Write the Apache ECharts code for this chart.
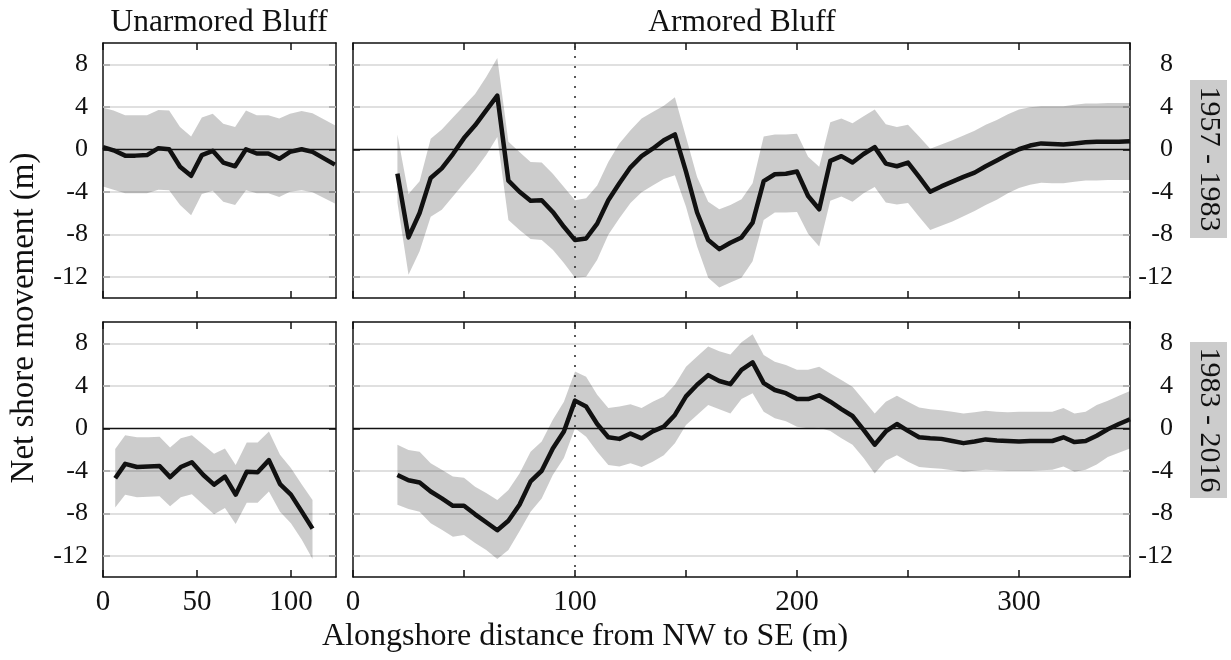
<!DOCTYPE html>
<html>
<head>
<meta charset="utf-8">
<script src="https://cdn.jsdelivr.net/npm/echarts@6/dist/echarts.min.js"></script>
<style>
  html, body { margin: 0; padding: 0; background: #fff; }
  #chart { width: 1231px; height: 660px; }
</style>
</head>
<body>
<div id="chart"></div>
<script>
// ---- Unarmored bluff, 1957 - 1983 ----
const ua1X    = [0, 5.6, 11.8, 17.2, 23.4, 29.5, 35.2, 41.0, 46.9, 52.6, 58.4, 64.0, 70.3, 76.1, 81.8, 88.0, 93.8, 99.5, 105.7, 111.5, 123.4];
const ua1Mean = [0.2, -0.1, -0.6, -0.6, -0.55, 0.1, 0, -1.65, -2.5, -0.55, -0.15, -1.25, -1.6, 0, -0.4, -0.4, -0.9, -0.25, 0, -0.25, -1.45];
const ua1Hi   = [3.9, 3.65, 3.2, 3.2, 3.2, 3.7, 3.65, 2.1, 1.2, 3.0, 3.35, 2.4, 2.1, 3.65, 3.2, 3.2, 2.9, 3.35, 3.6, 3.4, 2.25];
const ua1Lo   = [-3.5, -3.8, -4.15, -4.15, -4.15, -3.8, -3.85, -5.25, -6.2, -4.2, -3.9, -4.95, -5.25, -3.85, -4.15, -4.15, -4.5, -4.0, -3.85, -4.05, -5.1];

// ---- Unarmored bluff, 1983 - 2016 ----
const ua2X    = [6.5, 11.8, 18.1, 24.2, 30.1, 35.7, 41.4, 47.3, 53.4, 59.1, 64.9, 70.6, 76.5, 82.3, 88.3, 94.2, 100.0, 105.8, 111.5];
const ua2Mean = [-4.7, -3.35, -3.65, -3.6, -3.55, -4.6, -3.65, -3.2, -4.4, -5.3, -4.55, -6.25, -4.1, -4.15, -3.0, -5.25, -6.25, -7.85, -9.45];
const ua2Hi   = [-1.95, -0.65, -0.85, -0.85, -0.8, -1.8, -0.95, -0.65, -1.55, -2.4, -1.9, -3.45, -1.35, -1.35, -0.3, -2.5, -3.75, -5.3, -6.75];
const ua2Lo   = [-7.45, -6.25, -6.5, -6.45, -6.4, -7.35, -6.5, -6.2, -7.2, -8.1, -7.5, -9.0, -7.0, -7.0, -5.95, -7.85, -8.95, -10.5, -12.3];

// ---- Armored bluff, transects every 5 m from 20 m to 350 m ----
const arX = [20, 25, 30, 35, 40, 45, 50, 55, 60, 65, 70, 75, 80, 85, 90, 95, 100, 105, 110, 115,
             120, 125, 130, 135, 140, 145, 150, 155, 160, 165, 170, 175, 180, 185, 190, 195, 200, 205, 210, 215,
             220, 225, 230, 235, 240, 245, 250, 255, 260, 265, 270, 275, 280, 285, 290, 295, 300, 305, 310, 315,
             320, 325, 330, 335, 340, 345, 350];

// 1957 - 1983
const ar1Mean = [-2.3, -8.3, -6.0, -2.7, -1.8, -0.45, 1.05, 2.25, 3.65, 5.05, -2.95, -4.0, -4.85, -4.8, -5.9, -7.3, -8.55, -8.4, -7.0, -4.8,
                 -3.2, -1.7, -0.65, 0.05, 0.85, 1.4, -2.1, -5.95, -8.55, -9.4, -8.8, -8.3, -6.9, -3.0, -2.35, -2.3, -2.1, -4.4, -5.65, -1.1,
                 -0.65, -1.25, -0.45, 0.2, -1.35, -1.6, -1.25, -2.6, -4.0, -3.5, -3.05, -2.6, -2.2, -1.6, -1.05, -0.5, 0.0, 0.35, 0.55, 0.5,
                 0.45, 0.55, 0.65, 0.7, 0.7, 0.7, 0.75];
const ar1Hi   = [1.4, -4.2, -3.0, 1.0, 1.85, 3.0, 4.1, 5.2, 6.8, 8.6, 0.7, -0.25, -1.2, -1.25, -2.3, -3.55, -4.8, -4.6, -3.4, -1.2,
                 0.55, 1.8, 2.9, 3.5, 4.1, 4.9, 1.15, -2.6, -4.95, -5.65, -5.25, -4.7, -3.2, 1.2, 1.4, 1.4, 1.45, -0.7, -1.65, 2.55,
                 2.9, 2.45, 3.1, 3.75, 2.35, 2.1, 2.3, 1.2, 0.05, 0.45, 0.85, 1.3, 1.75, 2.3, 2.75, 3.3, 3.75, 3.95, 4.05, 4.05,
                 4.05, 4.2, 4.3, 4.3, 4.35, 4.35, 4.35];
const ar1Lo   = [-5.0, -11.8, -9.6, -6.35, -5.7, -4.45, -3.2, -1.95, -0.55, 1.15, -6.65, -7.6, -8.45, -8.55, -9.45, -10.7, -12.1, -12.0, -10.4, -8.05,
                 -6.5, -5.05, -4.05, -3.4, -2.8, -2.45, -5.4, -9.15, -12.1, -13.0, -12.55, -12.1, -10.55, -6.65, -5.95, -5.95, -5.9, -7.95, -9.15, -4.85,
                 -4.45, -4.95, -4.15, -3.55, -5.0, -5.2, -5.05, -6.35, -7.6, -7.2, -6.8, -6.3, -5.8, -5.25, -4.75, -4.15, -3.65, -3.35, -3.15, -3.2,
                 -3.2, -3.05, -2.95, -2.95, -2.9, -2.9, -2.9];

// 1983 - 2016
const ar2Mean = [-4.4, -4.9, -5.1, -5.95, -6.6, -7.3, -7.3, -8.1, -8.85, -9.6, -8.7, -7.2, -5.0, -4.0, -1.9, -0.3, 2.6, 2.05, 0.4, -0.85,
                 -1.0, -0.5, -0.95, -0.3, 0.15, 1.25, 3.0, 4.1, 5.0, 4.45, 4.15, 5.5, 6.2, 4.25, 3.6, 3.3, 2.75, 2.75, 3.1, 2.5,
                 1.8, 1.15, -0.15, -1.55, -0.3, 0.4, -0.25, -0.85, -0.95, -1.0, -1.2, -1.4, -1.25, -1.05, -1.15, -1.2, -1.25, -1.2, -1.2, -1.2,
                 -0.85, -1.3, -1.2, -0.7, -0.1, 0.4, 0.85];
const ar2Hi   = [-1.55, -2.05, -2.2, -3.3, -3.9, -4.55, -4.65, -5.5, -6.1, -6.75, -5.8, -4.25, -2.2, -1.25, 0.8, 2.5, 5.35, 4.85, 3.15, 1.9,
                 2.05, 2.25, 1.9, 2.5, 3.0, 4.1, 5.8, 6.75, 7.7, 7.25, 6.95, 8.1, 8.85, 6.9, 6.25, 5.95, 5.5, 5.5, 5.8, 5.15,
                 4.55, 3.9, 2.65, 1.4, 2.5, 3.05, 2.5, 1.95, 1.8, 1.7, 1.55, 1.4, 1.5, 1.65, 1.55, 1.5, 1.55, 1.55, 1.55, 1.55,
                 1.9, 1.4, 1.55, 2.2, 2.6, 3.05, 3.5];
const ar2Lo   = [-7.2, -7.6, -7.85, -8.95, -9.55, -10.2, -10.05, -10.8, -11.45, -12.3, -11.45, -9.7, -7.85, -6.6, -4.4, -2.8, 0.0, -0.8, -2.2, -3.45,
                 -3.6, -3.3, -3.65, -3.15, -2.55, -1.4, 0.3, 1.25, 2.2, 1.8, 1.4, 2.75, 3.3, 1.55, 0.95, 0.65, 0.15, 0.0, 0.05, -0.25,
                 -0.95, -1.55, -2.8, -4.25, -3.05, -2.55, -3.15, -3.65, -3.75, -3.8, -3.95, -4.1, -4.0, -3.9, -3.95, -4.0, -4.0, -4.0, -3.95, -3.9,
                 -3.6, -4.1, -3.9, -3.4, -2.7, -2.3, -1.9];

// ---- Axis ticks and labels ----
const yTickVals      = [-12, -8, -4, 0, 4, 8];
const yGridVals      = [-12, -8, -4, 4, 8];
const uaXTickVals    = [0, 50, 100];
const arXTickVals    = [0, 50, 100, 150, 200, 250, 300, 350];
const arXLabelVals   = [0, 100, 200, 300];
const armorStartX    = 100;   // start of the armored reach (dotted marker)

const panelTitles  = ['Unarmored Bluff', 'Armored Bluff'];
const periodLabels = ['1957 - 1983', '1983 - 2016'];
const yAxisName    = 'Net shore movement (m)';
const xAxisName    = 'Alongshore distance from NW to SE (m)';

// ---------------------------------------------------------------
const SERIF = '"Liberation Serif", "Times New Roman", Times, serif';
const INK = '#111';

const panels = [
  { grid: { left: 103, top: 43, width: 233, height: 255 }, xMax: 124, xTicks: uaXTickVals, xLabels: uaXTickVals,
    bottomRow: false, ySide: 'left', armored: false, x: ua1X, mean: ua1Mean, hi: ua1Hi, lo: ua1Lo },
  { grid: { left: 353, top: 43, width: 777, height: 255 }, xMax: 350, xTicks: arXTickVals, xLabels: arXLabelVals,
    bottomRow: false, ySide: 'right', armored: true, x: arX, mean: ar1Mean, hi: ar1Hi, lo: ar1Lo },
  { grid: { left: 103, top: 322, width: 233, height: 255 }, xMax: 124, xTicks: uaXTickVals, xLabels: uaXTickVals,
    bottomRow: true, ySide: 'left', armored: false, x: ua2X, mean: ua2Mean, hi: ua2Hi, lo: ua2Lo },
  { grid: { left: 353, top: 322, width: 777, height: 255 }, xMax: 350, xTicks: arXTickVals, xLabels: arXLabelVals,
    bottomRow: true, ySide: 'right', armored: true, x: arX, mean: ar2Mean, hi: ar2Hi, lo: ar2Lo }
];

const axisLineStyle = { color: INK, width: 1.5 };
const grids = [], xAxes = [], yAxes = [], series = [];

panels.forEach((p, i) => {
  grids.push(Object.assign({ containLabel: false, show: false }, p.grid));

  ['bottom', 'top'].forEach((pos) => {
    xAxes.push({
      type: 'value', gridIndex: i, position: pos, min: 0, max: p.xMax,
      axisLine: { show: true, onZero: false, lineStyle: axisLineStyle },
      axisTick: { show: true, inside: true, length: 7, customValues: p.xTicks, lineStyle: axisLineStyle },
      axisLabel: {
        show: pos === 'bottom' && p.bottomRow, customValues: p.xLabels, margin: 11,
        fontFamily: SERIF, fontSize: 29, color: INK
      },
      splitLine: { show: false }
    });
  });

  ['left', 'right'].forEach((pos) => {
    yAxes.push({
      type: 'value', gridIndex: i, position: pos, min: -14, max: 10,
      axisLine: { show: true, onZero: false, lineStyle: axisLineStyle },
      axisTick: { show: true, inside: true, length: 7, customValues: yTickVals, lineStyle: axisLineStyle },
      axisLabel: {
        show: pos === p.ySide, customValues: yTickVals,
        margin: pos === 'left' ? 15 : 43, align: 'right',
        fontFamily: SERIF, fontSize: 26, color: INK
      },
      splitLine: { show: false }
    });
  });

  const xi = 2 * i, yi = 2 * i;

  // uncertainty envelope as a polygon through the axis scales
  series.push({
    type: 'custom', xAxisIndex: xi, yAxisIndex: yi, z: 2, silent: true,
    data: [[p.x[0], p.mean[0]]],
    renderItem: (params, api) => {
      const pts = [];
      for (let k = 0; k < p.x.length; k++) pts.push(api.coord([p.x[k], p.hi[k]]));
      for (let k = p.x.length - 1; k >= 0; k--) pts.push(api.coord([p.x[k], p.lo[k]]));
      return { type: 'polygon', shape: { points: pts }, style: { fill: 'rgba(0,0,0,0.2)' } };
    },
    markLine: {
      z: 1, silent: true, symbol: ['none', 'none'], label: { show: false }, animation: false,
      lineStyle: { color: '#d6d6d6', width: 1.5, type: 'solid' },
      data: yGridVals.map(v => ({ yAxis: v }))
    }
  });

  const refLines = [{ yAxis: 0, lineStyle: { color: INK, width: 1.3, type: 'solid' } }];
  if (p.armored) {
    refLines.push({ xAxis: armorStartX, lineStyle: { color: '#333', width: 1.6, type: [2, 8] } });
  }

  series.push({
    type: 'line', xAxisIndex: xi, yAxisIndex: yi, z: 4, silent: true,
    data: p.x.map((v, k) => [v, p.mean[k]]),
    symbol: 'none', animation: false,
    lineStyle: { color: INK, width: 4.5, join: 'round' },
    markLine: {
      z: 3, silent: true, symbol: ['none', 'none'], label: { show: false }, animation: false,
      data: refLines
    }
  });
});

const textStyle = (size) => ({ fontFamily: SERIF, fontSize: size, fill: INK, textAlign: 'center', textVerticalAlign: 'middle' });

const graphic = [
  { type: 'text', x: 219, y: 23, style: Object.assign({ text: panelTitles[0] }, textStyle(31.5)) },
  { type: 'text', x: 742, y: 23, style: Object.assign({ text: panelTitles[1] }, textStyle(31.5)) },
  { type: 'text', x: 24, y: 318, rotation: Math.PI / 2, style: Object.assign({ text: yAxisName }, textStyle(33)) },
  { type: 'text', x: 585, y: 637, style: Object.assign({ text: xAxisName }, textStyle(32)) },
  { type: 'rect', shape: { x: 1190, y: 80, width: 37, height: 158 }, style: { fill: '#cccccc' } },
  { type: 'text', x: 1208.5, y: 159, rotation: -Math.PI / 2, style: Object.assign({ text: periodLabels[0] }, textStyle(30)) },
  { type: 'rect', shape: { x: 1190, y: 342, width: 37, height: 156 }, style: { fill: '#cccccc' } },
  { type: 'text', x: 1208.5, y: 420, rotation: -Math.PI / 2, style: Object.assign({ text: periodLabels[1] }, textStyle(30)) }
];

const chart = echarts.init(document.getElementById('chart'), null, { renderer: 'canvas' });
chart.setOption({
  backgroundColor: '#fff',
  animation: false,
  grid: grids,
  xAxis: xAxes,
  yAxis: yAxes,
  series: series,
  graphic: graphic
});
</script>
</body>
</html>
